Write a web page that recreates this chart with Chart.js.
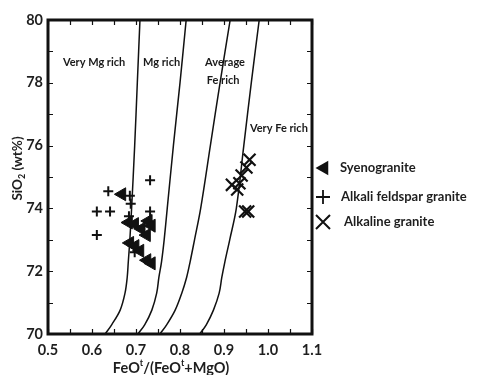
<!DOCTYPE html>
<html><head><meta charset="utf-8">
<script src="https://cdn.jsdelivr.net/npm/chart.js@4/dist/chart.umd.min.js"></script>
<style>html,body{margin:0;padding:0;background:#fff;}#wrap{width:477px;height:375px;position:relative;}</style>
</head><body><div id="wrap"><canvas id="c" width="477" height="375"></canvas></div>
<script>
// ---- data ----
const xTickLabels = ['0.5','0.6','0.7','0.8','0.9','1.0','1.1'];
const yTickLabels = ['70','72','74','76','78','80'];
const seriesNames = ['Syenogranite','Alkali feldspar granite','Alkaline granite'];

const syenograniteX = [0.668,0.683,0.697,0.712,0.724,0.728,0.735,0.686,0.698,0.709,0.725,0.735];
const syenograniteY = [74.45,73.55,73.50,73.35,73.15,73.60,73.45,72.90,72.80,72.65,72.35,72.25];

const alkaliFeldsparX = [0.637,0.611,0.641,0.611,0.732,0.732,0.686,0.688,0.684,0.697,0.730];
const alkaliFeldsparY = [74.55,73.90,73.90,73.15,74.90,73.90,74.40,74.15,73.75,72.60,73.55];

const alkalineX = [0.918,0.935,0.930,0.940,0.951,0.958,0.948,0.955];
const alkalineY = [74.75,74.80,74.60,75.05,75.30,75.55,73.90,73.90];

// boundary curves (FeOt/(FeOt+MgO) vs SiO2)
const curve1X = [0.630,0.645,0.664,0.675,0.680,0.6825,0.686,0.690,0.697,0.703,0.709];
const curve1Y = [70,70.3,70.76,71.3,71.8,72.3,73,74,76,78,80];
const curve2X = [0.7045,0.720,0.736,0.747,0.752,0.758,0.764,0.771,0.785,0.800,0.814];
const curve2Y = [70,70.3,70.76,71.3,71.8,72.3,73,74,76,78,80];
const curve3X = [0.7545,0.770,0.789,0.804,0.815,0.823,0.833,0.847,0.869,0.891,0.914];
const curve3Y = [70,70.3,70.76,71.3,71.8,72.3,73,74,76,78,80];
const curve4X = [0.845,0.860,0.876,0.889,0.895,0.902,0.913,0.928,0.945,0.962,0.980];
const curve4Y = [70,70.3,70.76,71.3,71.8,72.3,73,74,76,78,80];

const regionNames = ['Very Mg rich','Mg rich','Average','Fe rich','Very Fe rich'];

// ---- build ----
const pts = (xs, ys) => xs.map((x, i) => ({x, y: ys[i]}));
const FONT = 'Lato, "Open Sans", sans-serif';
const TXT = '#1e1e1e';

const curveStyle = {type:'line', showLine:true, pointRadius:0, borderColor:'#111', borderWidth:1.5, tension:0.35, fill:false, order:10};

const datasets = [
  Object.assign({label:'c1', data: pts(curve1X, curve1Y)}, curveStyle),
  Object.assign({label:'c2', data: pts(curve2X, curve2Y)}, curveStyle),
  Object.assign({label:'c3', data: pts(curve3X, curve3Y)}, curveStyle),
  Object.assign({label:'c4', data: pts(curve4X, curve4Y)}, curveStyle),
  {type:'scatter', label: seriesNames[1], data: pts(alkaliFeldsparX, alkaliFeldsparY), pointStyle:'cross', pointRadius:5, borderColor:'#111', borderWidth:2, order:2},
  {type:'scatter', label: seriesNames[2], data: pts(alkalineX, alkalineY), pointStyle:'crossRot', pointRadius:8.5, borderColor:'#111', borderWidth:2.2, order:1},
  {type:'scatter', label: seriesNames[0], data: pts(syenograniteX, syenograniteY), pointStyle:'triangle', rotation:-90, pointRadius:7.5, backgroundColor:'#111', borderColor:'#111', borderWidth:1, order:0},
];

const annotations = [
  {text: regionNames[0], x:0.534, y:78.66},
  {text: regionNames[1], x:0.716, y:78.66},
  {text: regionNames[2], x:0.857, y:78.66},
  {text: regionNames[3], x:0.861, y:78.06},
  {text: regionNames[4], x:0.959, y:76.56},
];

function drawPieces(ctx, pieces, cx, cy, baseFont, smallFont) {
  let total = 0;
  pieces.forEach(p => { ctx.font = p[1] === 'n' ? baseFont : smallFont; total += ctx.measureText(p[0]).width; });
  let x = cx - total / 2;
  ctx.textAlign = 'left';
  ctx.textBaseline = 'middle';
  pieces.forEach(p => {
    ctx.font = p[1] === 'n' ? baseFont : smallFont;
    const dy = p[1] === 'sup' ? -5 : (p[1] === 'sub' ? 4 : 0);
    ctx.fillText(p[0], x, cy + dy);
    x += ctx.measureText(p[0]).width;
  });
}

const decor = {
  id: 'decor',
  afterDatasetsDraw(chart) {
    const {ctx, chartArea: a, scales: {x, y}} = chart;
    ctx.save();
    ctx.strokeStyle = '#111';
    ctx.lineWidth = 1.2;
    const tl = 5;
    for (let v = 0.5; v <= 1.1001; v += 0.05) {
      const px = Math.round(x.getPixelForValue(v)) + 0.5;
      ctx.beginPath();
      ctx.moveTo(px, a.bottom); ctx.lineTo(px, a.bottom - tl);
      ctx.moveTo(px, a.top); ctx.lineTo(px, a.top + tl);
      ctx.stroke();
    }
    for (let v = 70; v <= 80; v += 1) {
      const py = Math.round(y.getPixelForValue(v)) + 0.5;
      ctx.beginPath();
      ctx.moveTo(a.left, py); ctx.lineTo(a.left + tl, py);
      ctx.moveTo(a.right, py); ctx.lineTo(a.right - tl, py);
      ctx.stroke();
    }
    ctx.lineWidth = 3;
    ctx.strokeStyle = '#111';
    ctx.strokeRect(a.left, a.top, a.right - a.left, a.bottom - a.top);

    ctx.fillStyle = '#1a1a1a';
    ctx.font = 'bold 11px ' + FONT;
    ctx.textAlign = 'left';
    ctx.textBaseline = 'middle';
    annotations.forEach(t => ctx.fillText(t.text, x.getPixelForValue(t.x), y.getPixelForValue(t.y)));

    ctx.fillStyle = TXT;
    drawPieces(ctx, [['FeO','n'],['t','sup'],['/(FeO','n'],['t','sup'],['+MgO)','n']], 171, 368, 'bold 14.5px ' + FONT, 'bold 9px ' + FONT);
    ctx.save();
    ctx.translate(18, 168.5);
    ctx.rotate(-Math.PI / 2);
    drawPieces(ctx, [['SiO','n'],['2','sub'],[' (wt%)','n']], 0, 0, 'bold 13.5px ' + FONT, 'bold 9px ' + FONT);
    ctx.restore();

    const rows = [[168, 340], [197, 341], [222, 344]];
    const ix = 323;
    ctx.fillStyle = '#111';
    const r = 8.5, cy0 = rows[0][0];
    ctx.beginPath();
    ctx.moveTo(ix - r + 1, cy0);
    ctx.lineTo(ix + r * 0.5 + 1, cy0 - r * 0.866);
    ctx.lineTo(ix + r * 0.5 + 1, cy0 + r * 0.866);
    ctx.closePath(); ctx.fill();
    ctx.strokeStyle = '#111'; ctx.lineWidth = 1.8;
    ctx.beginPath();
    ctx.moveTo(ix - 7, rows[1][0]); ctx.lineTo(ix + 7, rows[1][0]);
    ctx.moveTo(ix, rows[1][0] - 7); ctx.lineTo(ix, rows[1][0] + 7);
    ctx.stroke();
    ctx.lineWidth = 2;
    ctx.beginPath();
    ctx.moveTo(ix - 7, rows[2][0] - 7); ctx.lineTo(ix + 7, rows[2][0] + 7);
    ctx.moveTo(ix + 7, rows[2][0] - 7); ctx.lineTo(ix - 7, rows[2][0] + 7);
    ctx.stroke();
    ctx.fillStyle = TXT;
    ctx.font = 'bold 13px ' + FONT;
    ctx.textAlign = 'left'; ctx.textBaseline = 'middle';
    seriesNames.forEach((n, i) => ctx.fillText(n, rows[i][1], rows[i][0]));
    ctx.restore();
  }
};

new Chart(document.getElementById('c'), {
  type: 'scatter',
  data: {datasets},
  options: {
    responsive: false,
    animation: false,
    devicePixelRatio: 1,
    layout: {padding: {top: 20, right: 165, left: 0, bottom: 0}},
    plugins: {legend: {display: false}, tooltip: {enabled: false}},
    scales: {
      x: {
        type: 'linear', min: 0.5, max: 1.1,
        afterBuildTicks: s => { s.ticks = xTickLabels.map(t => ({value: parseFloat(t)})); },
        afterFit: s => { s.height = 41; },
        grid: {display: false, drawTicks: false},
        border: {display: false},
        ticks: {autoSkip: false, padding: 8, color: TXT, font: {family: FONT, size: 14.5, weight: 'bold'},
                callback: (v, i) => xTickLabels[i]},
      },
      y: {
        type: 'linear', min: 70, max: 80,
        afterBuildTicks: s => { s.ticks = yTickLabels.map(t => ({value: parseFloat(t)})); },
        afterFit: s => { s.width = 48; },
        grid: {display: false, drawTicks: false},
        border: {display: false},
        ticks: {autoSkip: false, padding: 5, color: TXT, font: {family: FONT, size: 14.5, weight: 'bold'},
                callback: (v, i) => yTickLabels[i]},
      }
    }
  },
  plugins: [decor]
});
</script></body></html>
